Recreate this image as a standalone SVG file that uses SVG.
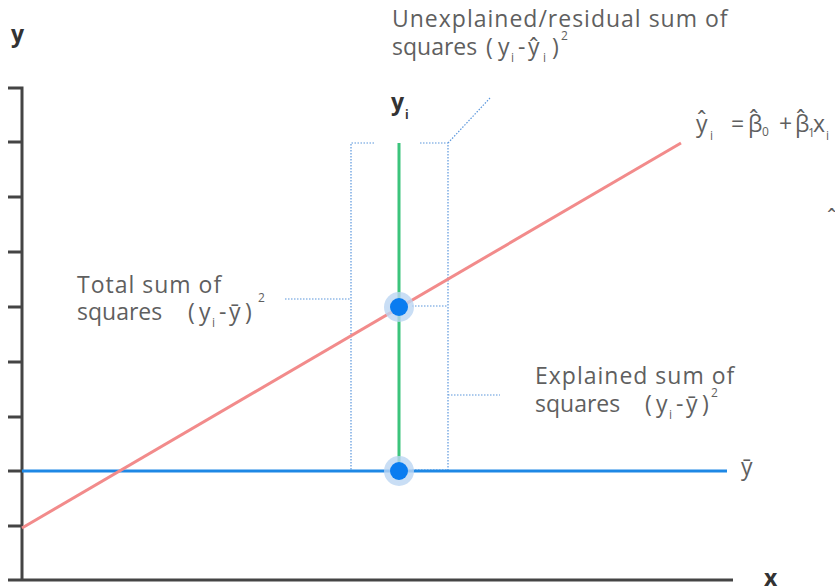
<svg xmlns="http://www.w3.org/2000/svg" width="835" height="588" viewBox="0 0 835 588">
<style>
.t{font-family:"Open Sans","Liberation Sans","DejaVu Sans",sans-serif;font-size:23px;fill:#5f5f5f}
.w{letter-spacing:1px}
.s{font-size:12px}
.b{font-weight:700;fill:#333}
.dot{stroke:#5a96dc;stroke-width:1.2;stroke-dasharray:1.5 1.5;fill:none}
.axis{stroke:#444;stroke-width:3;fill:none}
</style>
<rect width="835" height="588" fill="#fff"/>
<g id="axes">
<path class="axis" d="M8 88H22V580M8 580H733"/>
<path class="axis" d="M8 142H22M8 197H22M8 252H22M8 307H22M8 362H22M8 417H22M8 471H22M8 526H22"/>
<text class="t b" x="11" y="42">y</text>
<text class="t b" x="764" y="586">x</text>
</g>
<g id="connectors">
<path class="dot" d="M374 143H351V471M285 299H351"/>
<path class="dot" d="M420 143H448V471M490 98L448 143M412 306H448M412 470H448M448 395H500"/>
</g>
<g id="mean-line">
<line x1="22" y1="471" x2="727" y2="471" stroke="#1e88e5" stroke-width="3"/>
<text class="t" x="741" y="475">ȳ</text>
</g>
<g id="regression-line">
<line x1="22" y1="528" x2="681" y2="143" stroke="#f28b8b" stroke-width="3"/>
</g>
<g id="residual">
<line x1="399" y1="143" x2="399" y2="471" stroke="#3cc47c" stroke-width="3"/>
</g>
<g id="points">
<circle cx="399" cy="307" r="15" fill="#bcd6f2" opacity="0.8"/>
<circle cx="399" cy="307" r="9" fill="#0a7cf0"/>
<circle cx="399" cy="471" r="15" fill="#bcd6f2" opacity="0.8"/>
<circle cx="399" cy="471" r="9" fill="#0a7cf0"/>
</g>
<g id="yi-label">
<text class="t b" x="391" y="110">y</text>
<text class="t b s" x="405" y="119">i</text>
</g>
<g id="equation">
<text class="t" x="696" y="132">y</text>
<text class="t" x="697" y="128">ˆ</text>
<text class="t s" x="710" y="140">i</text>
<text class="t" x="731" y="132">=</text>
<text class="t" x="748" y="132">β</text>
<text class="t" x="749" y="127">ˆ</text>
<text class="t s" x="762" y="136">0</text>
<text class="t" x="779" y="132">+</text>
<text class="t" x="795" y="132">β</text>
<text class="t" x="796" y="127">ˆ</text>
<text class="t s" x="808" y="137">1</text>
<text class="t" x="813" y="132">x</text>
<text class="t s" x="826" y="140">i</text>
<text class="t" x="827" y="226" font-size="14">ˆ</text>
</g>
<g id="unexplained-label">
<text class="t w" x="392" y="27">Unexplained/residual sum of</text>
<text class="t" x="392" y="55">squares</text>
<text class="t" x="486" y="55">(</text>
<text class="t" x="498" y="55">y</text>
<text class="t s" x="511" y="62">i</text>
<text class="t" x="518" y="55">-</text>
<text class="t" x="528" y="55">y</text>
<text class="t" x="529" y="55">ˆ</text>
<text class="t s" x="543" y="62">i</text>
<text class="t" x="552" y="55">)</text>
<text class="t s" x="561" y="40">2</text>
</g>
<g id="total-label">
<text class="t w" x="77" y="293">Total sum of</text>
<text class="t" x="77" y="320">squares</text>
<text class="t" x="188" y="320">(</text>
<text class="t" x="199" y="320">y</text>
<text class="t s" x="212" y="327">i</text>
<text class="t" x="219" y="320">-</text>
<text class="t" x="229" y="320">ȳ</text>
<text class="t" x="245" y="320">)</text>
<text class="t s" x="258" y="302">2</text>
</g>
<g id="explained-label">
<text class="t w" x="535" y="384">Explained sum of</text>
<text class="t" x="535" y="412">squares</text>
<text class="t" x="645" y="412">(</text>
<text class="t" x="656" y="412">y</text>
<text class="t s" x="669" y="419">i</text>
<text class="t" x="676" y="412">-</text>
<text class="t" x="686" y="412">ȳ</text>
<text class="t" x="702" y="412">)</text>
<text class="t s" x="711" y="397">2</text>
</g>
</svg>
